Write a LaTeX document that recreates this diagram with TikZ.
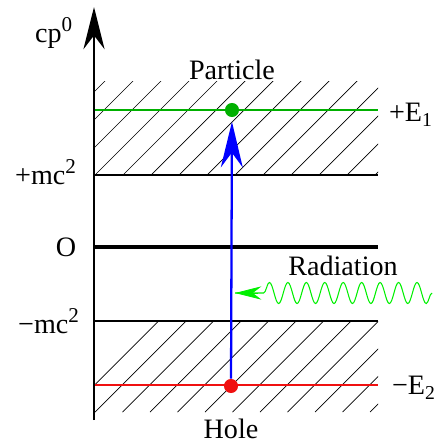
\documentclass[tikz,border=0pt]{standalone}
\usepackage{fontspec}
\setmainfont{Liberation Serif}
\usetikzlibrary{arrows.meta,positioning,decorations.pathmorphing}
\definecolor{lvlgreen}{HTML}{00B000}
\definecolor{radgreen}{HTML}{00F000}
\definecolor{holered}{HTML}{F01010}

\begin{document}
\begin{tikzpicture}[x=0.02cm,y=-0.02cm,every node/.style={font=\fontsize{16}{19}\selectfont,inner sep=1pt},level/.style={line width=1.6pt},hatch/.style={line width=0.4pt},dot/.style={circle,minimum size=8pt,inner sep=0pt}]
\useasboundingbox (0,0) rectangle (446,446);
% hatched bands
\begin{scope}
\clip (94,82) rectangle (378,175);
\foreach \k in {-4,...,10} \draw[hatch] (95+\k*28,175) -- ++(110,-110);
\end{scope}
\begin{scope}
\clip (94,321) rectangle (378,412);
\foreach \k in {-5,...,7} \draw[hatch] (205+\k*27.5,412) -- ++(110,-110);
\end{scope}
% levels
\draw[level] (94,175) -- (378,175);
\draw[line width=2.1pt] (94,247) -- (378,247);
\draw[level] (94,321) -- (378,321);
\draw[lvlgreen,line width=1.1pt] (94,110) -- (378,110);
\draw[holered,line width=1.1pt] (94,385) -- (378,385);
% axis
\draw[line width=1.7pt,-{Stealth[length=24pt,width=12pt]}] (94,420) -- (94,7);
\node (cp) at (54,33) {cp\textsuperscript{\large 0}};
\node (pmc) at (46,172) {+mc\textsuperscript{\large 2}};
\node (zero) at (66,247) {O};
\node (mmc) at (49,321) {−mc\textsuperscript{\large 2}};
\node (eone) at (411,115) {+E\textsubscript{1}};
\node (etwo) at (414,388) {−E\textsubscript{2}};
% states
\node[dot,fill=lvlgreen] (particle) at (232,110) {};
\node[dot,fill=holered] (hole) at (231,386) {};
\node[above=12pt of particle] {Particle};
\node[below=13.5pt of hole] {Hole};
\draw[blue,line width=1.3pt,-{Stealth[length=26pt,width=12.5pt]},shorten >=2.5pt] (hole) -- (particle);
% radiation
\coordinate (wstart) at (432,293);
\coordinate (wend) at (235,293);
\node (rad) at (343,266) {Radiation};
\draw[radgreen,line width=0.6pt,decorate,decoration={snake,amplitude=6pt,segment length=10.5pt,post length=13pt}] (wstart) -- (wend);
\draw[radgreen,-{Stealth[length=15pt,width=7.5pt]}] (258,293) -- (wend);
\end{tikzpicture}
\end{document}
